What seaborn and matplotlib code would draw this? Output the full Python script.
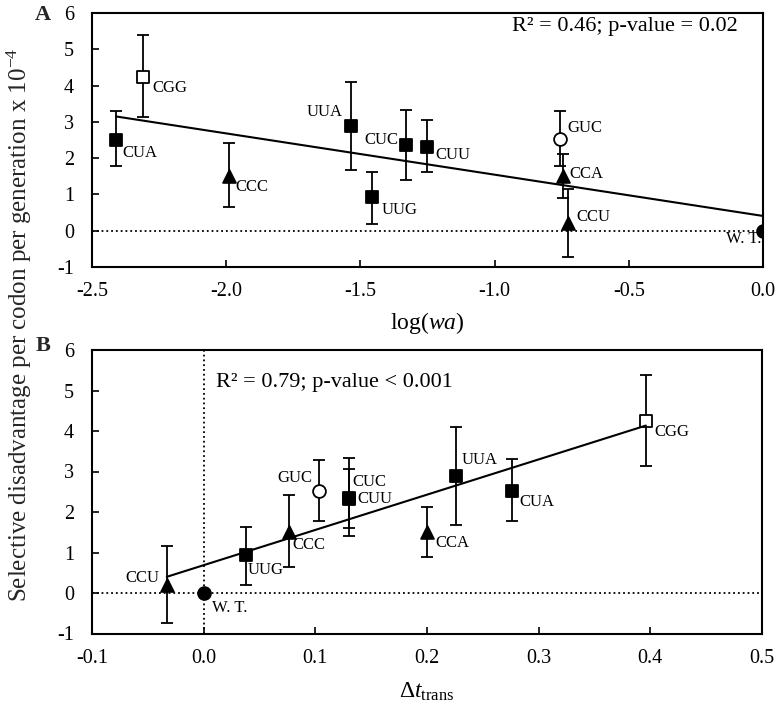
import numpy as np
import pandas as pd
import matplotlib
matplotlib.use("Agg")
import matplotlib.pyplot as plt
import seaborn as sns
from matplotlib.ticker import FormatStrFormatter

# ---------------- data ----------------
codons = ["CUA", "CGG", "CCC", "UUA", "UUG", "CUC", "CUU", "GUC", "CCA", "CCU", "W. T."]
log_wa = [-2.41, -2.31, -1.99, -1.535, -1.455, -1.33, -1.25, -0.757, -0.747, -0.725, 0.0]
dt_trans = [0.276, 0.396, 0.076, 0.226, 0.038, 0.130, 0.130, 0.103, 0.200, -0.033, 0.0]
disadv = [2.51, 4.25, 1.50, 2.89, 0.93, 2.35, 2.32, 2.53, 1.50, 0.20, 0.0]
err_upper = [3.31, 5.38, 2.42, 4.11, 1.63, 3.33, 3.06, 3.29, 2.12, 1.15, np.nan]
err_lower = [1.77, 3.13, 0.64, 1.68, 0.19, 1.40, 1.61, 1.77, 0.90, -0.73, np.nan]

stats_a = "R\u00b2 = 0.46; p-value = 0.02"
stats_b = "R\u00b2 = 0.79; p-value < 0.001"
xticks_a = [-2.5, -2.0, -1.5, -1.0, -0.5, 0.0]
xticks_b = [-0.1, 0.0, 0.1, 0.2, 0.3, 0.4, 0.5]
yticks = [-1, 0, 1, 2, 3, 4, 5, 6]
ylabel = "Selective disadvantage per codon per generation x 10$^{-4}$"
xlabel_a = "log($\\mathit{wa}$)"
xlabel_b = "\u0394$\\mathit{t}_{\\mathrm{trans}}$"

# ---------------- styles ----------------
marker_style = {
    "CUA": ("s", "black"), "CGG": ("s", "white"), "CCC": ("^", "black"),
    "UUA": ("s", "black"), "UUG": ("s", "black"), "CUC": ("s", "black"),
    "CUU": ("s", "black"), "GUC": ("o", "white"), "CCA": ("^", "black"),
    "CCU": ("^", "black"), "W. T.": ("o", "black"),
}
# label offsets in pixels (dx, dy) and horizontal alignment
label_pos_a = {
    "CUA": (6, -13, "left"), "CGG": (9, -12, "left"), "CCC": (6, -11, "left"),
    "UUA": (-8, 14, "right"), "UUG": (9, -13, "left"), "CUC": (-8, 5, "right"),
    "CUU": (8, -8, "left"), "GUC": (8, 11, "left"), "CCA": (7, 2, "left"),
    "CCU": (8, 6, "left"), "W. T.": (-2, -8, "right"),
}
label_pos_b = {
    "CUA": (8, -11, "left"), "CGG": (9, -11, "left"), "CCC": (4, -13, "left"),
    "UUA": (6, 16, "left"), "UUG": (2, -15, "left"), "CUC": (4, 16, "left"),
    "CUU": (9, 0, "left"), "GUC": (-6, 13, "right"), "CCA": (8, -11, "left"),
    "CCU": (-7, 7, "right"), "W. T.": (8, -15, "left"),
}

sns.set_theme(style="white")
plt.rcParams["font.family"] = ["Liberation Serif", "DejaVu Serif"]
plt.rcParams["mathtext.fontset"] = "custom"
plt.rcParams["mathtext.rm"] = "Liberation Serif"
plt.rcParams["mathtext.it"] = "Liberation Serif:italic"
plt.rcParams["axes.unicode_minus"] = False

df = pd.DataFrame({"codon": codons, "log_wa": log_wa, "dt_trans": dt_trans,
                   "disadv": disadv, "hi": err_upper, "lo": err_lower})

W, H = 778, 707
fig = plt.figure(figsize=(W / 100, H / 100), dpi=100)
axA = fig.add_axes([92 / W, 1 - 267 / H, (763 - 92) / W, (267 - 13) / H])
axB = fig.add_axes([92 / W, 1 - 633.5 / H, (762 - 92) / W, (633.5 - 350) / H])


def draw(ax, xcol, labels, xticks, xlim):
    ax.axhline(0, color="black", ls=":", lw=1.3, zorder=1)
    e = df.dropna(subset=["hi"])
    ax.errorbar(e[xcol], e["disadv"], yerr=[e["disadv"] - e["lo"], e["hi"] - e["disadv"]],
                fmt="none", ecolor="black", elinewidth=1.3, capsize=4.5, capthick=1.3, zorder=2)
    for (m, fc), sub in df.groupby(df["codon"].map(marker_style)):
        sns.scatterplot(data=sub, x=xcol, y="disadv", marker=m, s=85, color=fc,
                        edgecolor="black", linewidth=1.3, ax=ax, zorder=4, legend=False)
    sns.regplot(data=df, x=xcol, y="disadv", ax=ax, scatter=False, ci=None, truncate=True,
                line_kws=dict(color="black", lw=1.5, zorder=5))
    for _, r in df.iterrows():
        dx, dy, ha = labels[r["codon"]]
        ax.annotate(r["codon"], (r[xcol], r["disadv"]), xytext=(dx, dy),
                    textcoords="offset pixels", ha=ha, va="center", fontsize=12,
                    color="black", zorder=6)
    ax.set_xlim(xlim)
    ax.set_ylim(-1, 6)
    ax.set_xticks(xticks)
    ax.set_yticks(yticks)
    ax.xaxis.set_major_formatter(FormatStrFormatter("%.1f"))
    ax.tick_params(axis="both", direction="in", length=5, width=1.2, labelsize=14.5,
                   colors="black", bottom=True, left=True, top=False, right=False)
    ax.tick_params(axis="y", pad=13)
    ax.tick_params(axis="x", pad=11)
    for s in ax.spines.values():
        s.set_color("black")
        s.set_linewidth(1.5)
    ax.set_ylabel("")


draw(axA, "log_wa", label_pos_a, xticks_a, (-2.5, 0.0))
draw(axB, "dt_trans", label_pos_b, xticks_b, (-0.1, 0.5))
axB.axvline(0, color="black", ls=":", lw=1.3, zorder=1)

axA.set_xlabel(xlabel_a, fontsize=17, color="black")
axA.xaxis.set_label_coords(0.5, -0.17)
axB.set_xlabel(xlabel_b, fontsize=17, color="black")
axB.xaxis.set_label_coords(0.5, -0.165)

axA.text(0.963, 0.945, stats_a, transform=axA.transAxes, ha="right", va="center",
         fontsize=16, color="black")
axB.text(0.185, 0.887, stats_b, transform=axB.transAxes, ha="left", va="center",
         fontsize=16, color="black")

fig.text(43 / W, 1 - 15 / H, "A", fontsize=16, fontweight="bold", ha="center", va="center")
fig.text(43 / W, 1 - 346 / H, "B", fontsize=16, fontweight="bold", ha="center", va="center")
fig.text(19 / W, 1 - 324.5 / H, ylabel, rotation=90, fontsize=18, ha="center", va="center")

fig.savefig("out.png", dpi=100)
